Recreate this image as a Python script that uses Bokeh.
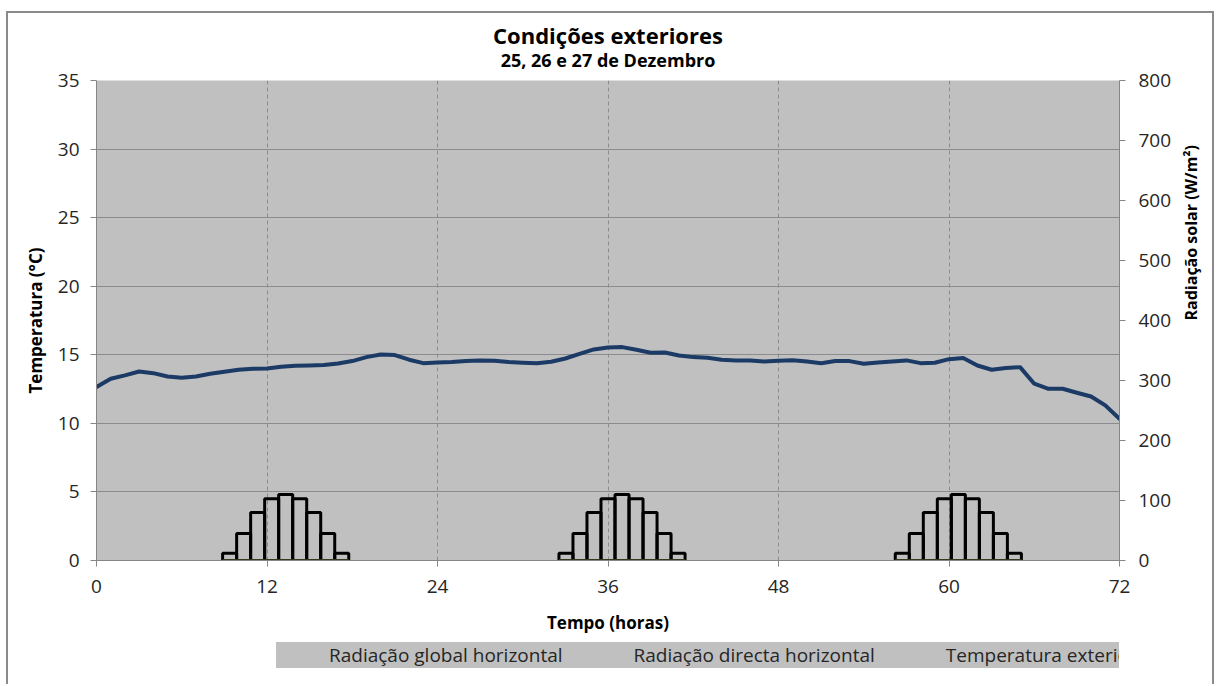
import math

from bokeh.embed import file_html
from bokeh.layouts import column
from bokeh.models import (ColumnDataSource, Legend, LegendItem, LinearAxis,
                          Range1d, SingleIntervalTicker, Title)
from bokeh.plotting import figure
from bokeh.resources import INLINE
from bokeh.transform import dodge

# ---- data -----------------------------------------------------------------
hours = list(range(73))

temp_ext = [12.64, 13.25, 13.5, 13.78, 13.66, 13.42, 13.32, 13.42, 13.62, 13.76,
            13.91, 13.98, 14.0, 14.12, 14.2, 14.22, 14.25, 14.37, 14.54, 14.83,
            15.02, 14.98, 14.64, 14.39, 14.44, 14.47, 14.54, 14.59, 14.56, 14.47,
            14.42, 14.39, 14.49, 14.73, 15.07, 15.39, 15.53, 15.56, 15.37, 15.15,
            15.17, 14.95, 14.83, 14.78, 14.64, 14.59, 14.59, 14.51, 14.56, 14.61,
            14.51, 14.39, 14.54, 14.54, 14.35, 14.44, 14.51, 14.59, 14.39, 14.42,
            14.68, 14.76, 14.22, 13.91, 14.03, 14.1, 12.89, 12.52, 12.52, 12.23,
            11.96, 11.31, 10.33]

sun_hours = [9, 10, 11, 12, 13, 14, 15, 16, 17,
             33, 34, 35, 36, 37, 38, 39, 40, 41,
             57, 58, 59, 60, 61, 62, 63, 64, 65]
rad_global = [12, 45, 80, 103, 110, 103, 80, 45, 12,
              12, 45, 80, 103, 110, 103, 80, 45, 12,
              12, 45, 80, 103, 110, 103, 80, 45, 12]
rad_direct = [0, 0, 0, 0, 0, 0, 0, 0, 0,
              0, 0, 0, 0, 0, 0, 0, 0, 0,
              0, 0, 0, 0, 0, 0, 0, 0, 0]

temp_ticks_step = 5
rad_ticks_step = 100
hour_ticks_step = 12

FONT = "Open Sans"
GRID = "#8C8C8C"
AXIS = "#868686"
TEXT = "#262626"
PLOT_BG = "#C0C0C0"
EDGE = "2px solid #8A8A8A"
GLOBAL_STYLE = dict(fill_color="white", line_color="black", line_width=3)
DIRECT_STYLE = dict(fill_color="#E6E64C", line_color="#6E6E3A", line_width=2)
TEMP_STYLE = dict(line_color="#1B3A66", line_width=4)

# ---- main chart -----------------------------------------------------------
p = figure(width=1208, height=623,
           x_range=Range1d(0, 72), y_range=Range1d(0, 35),
           output_backend="svg", toolbar_location=None,
           title="Condições exteriores",
           min_border_left=88, min_border_right=92,
           min_border_top=67, min_border_bottom=76)
p.margin = (11, 0, 0, 6)
p.styles = {"border-left": EDGE, "border-top": EDGE, "border-right": EDGE}

p.background_fill_color = PLOT_BG
p.border_fill_color = "white"
p.outline_line_color = None

p.title.align = "center"
p.title.text_font = FONT
p.title.text_font_size = "22px"
p.title.text_font_style = "bold"
p.title.text_color = "black"
p.title.standoff = -24
p.add_layout(Title(text="25, 26 e 27 de Dezembro", align="center",
                   text_font=FONT, text_font_size="18px",
                   text_font_style="bold", text_color="black",
                   standoff=17), "above")

# hourly column slots: 73 one-hour slots laid across the whole width
p.extra_x_ranges = {"slots": Range1d(0, 73)}
p.extra_y_ranges = {"rad": Range1d(0, 800)}


def style_axis(ax, label_size):
    ax.axis_line_color = AXIS
    ax.major_tick_line_color = AXIS
    ax.minor_tick_line_color = None
    ax.major_tick_in = 0
    ax.major_tick_out = 6
    ax.major_label_text_font = FONT
    ax.major_label_text_font_size = "19px"
    ax.major_label_text_color = TEXT
    ax.axis_label_text_font = FONT
    ax.axis_label_text_font_size = label_size
    ax.axis_label_text_font_style = "bold"
    ax.axis_label_text_color = "black"


xax = p.xaxis[0]
xax.ticker = SingleIntervalTicker(interval=hour_ticks_step)
xax.axis_label = "Tempo (horas)"
style_axis(xax, "17px")
xax.major_label_standoff = 13
xax.axis_label_standoff = 15

yax = p.yaxis[0]
yax.ticker = SingleIntervalTicker(interval=temp_ticks_step)
yax.axis_label = "Temperatura (°C)"
style_axis(yax, "17px")
yax.major_label_standoff = 11
yax.axis_label_standoff = 8

rax = LinearAxis(y_range_name="rad",
                 ticker=SingleIntervalTicker(interval=rad_ticks_step),
                 axis_label="Radiação solar (W/m²)")
style_axis(rax, "16px")
rax.major_label_standoff = 13
rax.axis_label_standoff = 17
rax.axis_label_orientation = math.pi / 2
rax.axis_label_text_align = "center"
p.add_layout(rax, "right")

p.ygrid.grid_line_color = GRID
p.ygrid.grid_line_width = 1
p.xgrid.ticker = SingleIntervalTicker(interval=hour_ticks_step)
p.xgrid.grid_line_color = GRID
p.xgrid.grid_line_dash = "4 3"
p.xgrid.grid_line_width = 1

sun_src = ColumnDataSource(dict(hour=sun_hours, glob=rad_global,
                                direct=rad_direct))
slot_x = dodge("hour", 0.5, range=p.extra_x_ranges["slots"])

p.vbar(x=slot_x, top="glob", bottom=0, width=1, source=sun_src,
       x_range_name="slots", y_range_name="rad",
       fill_color=None, line_color="black", line_width=3)
p.vbar(x=slot_x, top="direct", bottom=0, width=1, source=sun_src,
       x_range_name="slots", y_range_name="rad", **DIRECT_STYLE)
p.line(hours, temp_ext, line_join="round", line_cap="round", **TEMP_STYLE)

# ---- legend strip under the chart -------------------------------------------
leg = figure(width=1208, height=50, x_range=Range1d(0, 1),
             y_range=Range1d(0, 1), output_backend="svg",
             toolbar_location=None, min_border=0)
leg.margin = (0, 0, 0, 6)
leg.styles = {"border-left": EDGE, "border-right": EDGE}
leg.axis.visible = False
leg.grid.visible = False
leg.outline_line_color = None
leg.background_fill_color = "white"
leg.border_fill_color = "white"

key_global = leg.vbar(x=[], top=[], width=1, **GLOBAL_STYLE)
key_direct = leg.vbar(x=[], top=[], width=1, **DIRECT_STYLE)
key_temp = leg.line(x=[], y=[], **TEMP_STYLE)

legend = Legend(items=[
    LegendItem(label="Radiação global horizontal", renderers=[key_global]),
    LegendItem(label="Radiação directa horizontal", renderers=[key_direct]),
    LegendItem(label="Temperatura exterior", renderers=[key_temp]),
], orientation="horizontal", location=(180, 16))
legend.background_fill_color = PLOT_BG
legend.background_fill_alpha = 1
legend.border_line_color = None
legend.label_text_font = FONT
legend.label_text_font_size = "19px"
legend.label_text_color = TEXT
legend.glyph_width = 50
legend.glyph_height = 13
legend.label_standoff = 3
legend.spacing = 18
legend.padding = 3
legend.margin = 0
leg.add_layout(legend, "center")

page = column(p, leg, spacing=0)

open("out.html", "w").write(file_html(page, INLINE))
